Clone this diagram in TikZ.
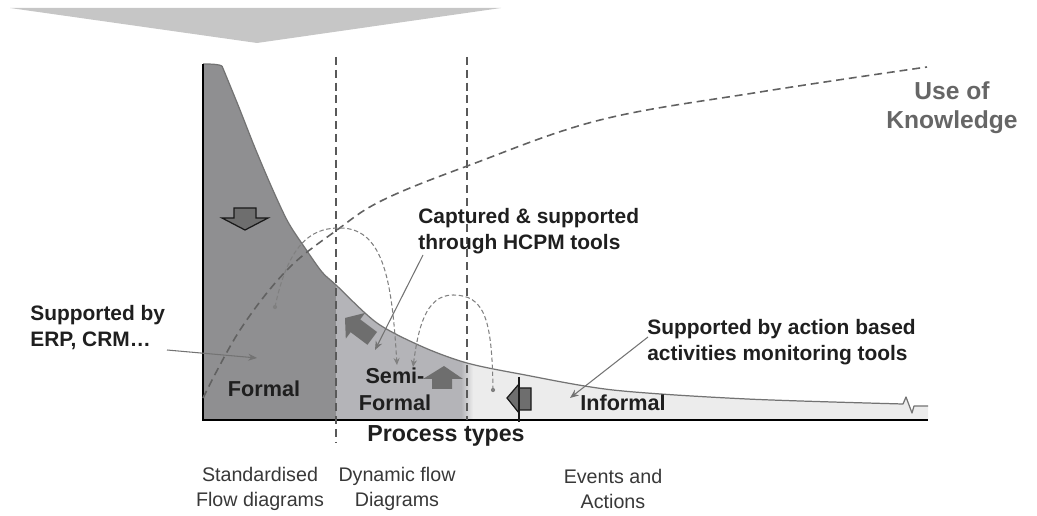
\documentclass[tikz,border=0pt]{standalone}
\usepackage{fontspec}
\setmainfont{Liberation Sans}
\usetikzlibrary{arrows.meta}
\definecolor{formalc}{HTML}{8F8F91}
\definecolor{semic}{HTML}{B4B4B8}
\definecolor{informc}{HTML}{ECECEC}
\definecolor{bannerc}{HTML}{C6C6C6}
\definecolor{arrowc}{HTML}{6E6E6E}
\begin{document}
\begin{tikzpicture}[x=0.02cm,y=-0.02cm,
  lbl/.style={font=\bfseries\fontsize{11.9}{14.8}\selectfont, text=black!88, align=left, inner sep=0, anchor=west},
  region/.style={font=\bfseries\fontsize{12.3}{15.4}\selectfont, text=black!88, align=center, inner sep=0},
  bottomlbl/.style={font=\fontsize{11.2}{14.2}\selectfont, text=black!78, align=center, inner sep=0},
  knowlbl/.style={font=\bfseries\fontsize{14}{16.5}\selectfont, text=black!60, align=center, inner sep=0},
  callout/.style={draw=black!55, line width=0.6pt, -{Stealth[length=5pt,width=4pt]}},
  vdash/.style={draw=black!65, line width=0.7pt, dash pattern=on 4.5pt off 2.8pt},
  kdash/.style={draw=black!62, line width=0.9pt, dash pattern=on 4.5pt off 2.8pt},
  loopline/.style={draw=black!50, line width=0.6pt, dash pattern=on 2.5pt off 1.5pt, -{Stealth[length=4pt,width=3.5pt]}},
  outlinedarrow/.style={fill=arrowc, draw=black!90, line width=0.7pt, line join=miter},
  softarrow/.style={fill=arrowc}
]
\useasboundingbox (0,0) rectangle (1037,516);

% banner
\fill[bannerc] (10,8) -- (501,8) -- (257,43) -- cycle;

% regions under the curve
\begin{scope}
\clip (203,420) -- (203,64) .. controls (214,64) and (219,64.5) .. (222,66)
  -- plot[smooth, tension=0.5] coordinates {(222,66) (238,105) (255,148) (272,188) (288,222) (305,248) (322,272) (336,285) (377,323) (423,347) (467,363) (520,374) (613,390) (747,399) (903,404)}
  -- (906,397) -- (912,413) -- (914,406) -- (928,406) -- (928,420) -- cycle;
\fill[formalc] (200,40) rectangle (336,425);
\fill[semic] (336,40) rectangle (467,425);
\fill[informc] (467,40) rectangle (930,425);
\shade[left color=semic, right color=informc] (461,40) rectangle (473,425);
\end{scope}

% curve outline
\draw[black!55, line width=0.7pt] (203,64) .. controls (214,64) and (219,64.5) .. (222,66);
\draw[black!55, line width=0.7pt, line join=round]
  plot[smooth, tension=0.5] coordinates {(222,66) (238,105) (255,148) (272,188) (288,222) (305,248) (322,272) (336,285) (377,323) (423,347) (467,363) (520,374) (613,390) (747,399) (903,404)}
  -- (906,397) -- (912,413) -- (914,406) -- (928,406);

% axes
\draw[black, line width=1.1pt] (203,64) -- (203,421);
\draw[black, line width=1.3pt] (202,420) -- (928,420);

% vertical dashed separators
\draw[vdash] (336,57) -- (336,442);
\draw[vdash] (467,57) -- (467,420);

% use of knowledge curve
\draw[kdash] plot[smooth, tension=0.6] coordinates {(203,398) (240,330) (287,270) (337,230) (383,200) (470,165) (600,120) (760,92) (927,67)};

% dashed loops
\coordinate (l1s) at (275,307);
\coordinate (l1e) at (397,365);
\coordinate (l2s) at (493,390);
\coordinate (l2e) at (413,367);
\fill[black!50] (l1s) circle (1.2pt);
\fill[black!50] (l2s) circle (1.2pt);
\draw[loopline] (l1s) .. controls (290,235) and (318,228) .. (340,228) .. controls (385,228) and (392,285) .. (l1e);
\draw[loopline] (l2s) .. controls (492,320) and (485,295) .. (453,295) .. controls (425,295) and (418,330) .. (l2e);

% block arrows
\draw[outlinedarrow] (234,208) -- (256,208) -- (256,218) -- (268,218) -- (245,230) -- (222,218) -- (234,218) -- cycle;
\draw[outlinedarrow] (507,398) -- (519,384) -- (519,388) -- (531,388) -- (531,410) -- (519,410) -- (519,413) -- cycle;
\draw[black!90, line width=0.7pt] (519,377) -- (519,422);
\fill[softarrow] (444,366) -- (463,379) -- (452,379) -- (452,389) -- (432,389) -- (432,379) -- (423,379) -- cycle;
\fill[softarrow] (345,318) -- (365,313) -- (360.2,319.4) -- (377,332) -- (367.4,344.8) -- (350.6,332.2) -- (345.8,338.6) -- cycle;

% labels
\node[lbl] (erp) at (30,328) {Supported by\\ERP, CRM\dots};
\node[lbl] (hcpm) at (418,231) {Captured \& supported\\through HCPM tools};
\node[lbl] (action) at (647,342) {Supported by action based\\activities monitoring tools};
\node[knowlbl] (know) at (952,108) {Use of\\Knowledge};
\node[region] (formal) at (264,389) {Formal};
\node[region] (semi) at (395,389) {Semi-\\Formal};
\node[region] (informal) at (623,403) {Informal};
\node[font=\bfseries\fontsize{13.2}{15}\selectfont, text=black!88, inner sep=0] (ptypes) at (446,436) {Process types};
\node[bottomlbl] (std) at (260,489) {Standardised\\Flow diagrams};
\node[bottomlbl] (dyn) at (397,489) {Dynamic flow\\Diagrams};
\node[bottomlbl] (ev) at (613,489) {Events and\\Actions};

% callouts
\coordinate (c1s) at (167,350);
\coordinate (c1e) at (257,358);
\coordinate (c2s) at (423,255);
\coordinate (c2e) at (375,350);
\coordinate (c3s) at (648,337);
\coordinate (c3e) at (570,398);
\draw[callout] (c1s) -- (c1e);
\draw[callout] (c2s) -- (c2e);
\draw[callout] (c3s) -- (c3e);
\end{tikzpicture}
\end{document}
